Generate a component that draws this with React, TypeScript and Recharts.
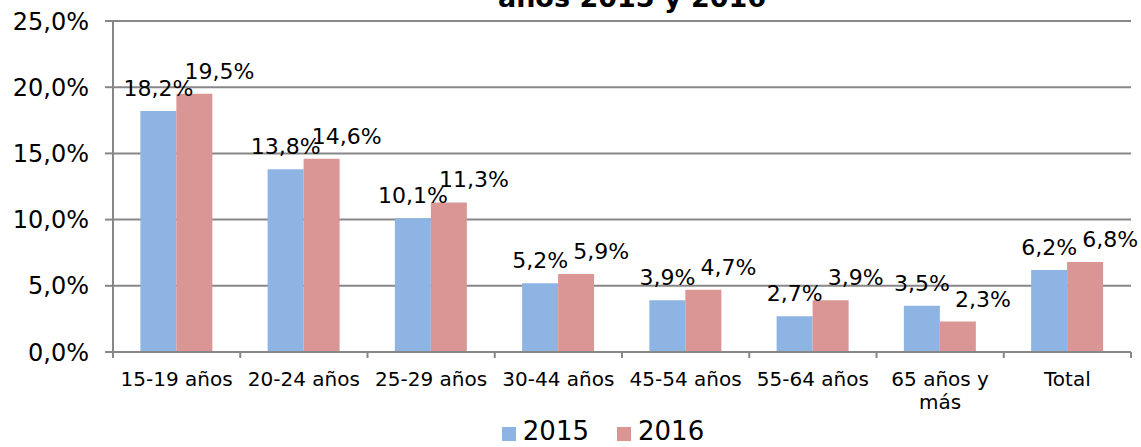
import { BarChart, Bar, XAxis, YAxis, CartesianGrid, Legend, LabelList } from 'recharts';

const categories = ['15-19 años', '20-24 años', '25-29 años', '30-44 años', '45-54 años', '55-64 años', '65 años y\nmás', 'Total'];
const values2015 = [18.2, 13.8, 10.1, 5.2, 3.9, 2.7, 3.5, 6.2];
const values2016 = [19.5, 14.6, 11.3, 5.9, 4.7, 3.9, 2.3, 6.8];
const yTicks = [0, 5, 10, 15, 20, 25];

const data = categories.map((name, i) => ({
  name,
  y2015: values2015[i],
  y2016: values2016[i],
}));

const W = 1141;
const H = 447;
const MARGIN = { top: 21, right: 10, bottom: 2, left: 0 };
const Y_AXIS_W = 113;
const BAND = (W - MARGIN.left - MARGIN.right - Y_AXIS_W) / categories.length;
const FONT = '"DejaVu Sans", Verdana, sans-serif';
const GRAY = '#878787';
const BLUE = '#8EB4E3';
const RED = '#D99694';

const fmt = (v: number) => v.toFixed(1).replace('.', ',') + '%';

function XTick(props: any) {
  const { x, y, payload, index } = props;
  const last = index === categories.length - 1;
  const lines = String(payload.value).split('\n');
  return (
    <g>
      <line x1={x - BAND / 2} y1={y} x2={x - BAND / 2} y2={y + 6} stroke={GRAY} strokeWidth={2} />
      {last && <line x1={x + BAND / 2} y1={y} x2={x + BAND / 2} y2={y + 6} stroke={GRAY} strokeWidth={2} />}
      <text x={x} y={y + 34} textAnchor="middle" fontSize={20} fontFamily={FONT} fill="#000">
        {lines.map((l, i) => (
          <tspan key={i} x={x} dy={i === 0 ? 0 : 23}>
            {l}
          </tspan>
        ))}
      </text>
    </g>
  );
}

const makeLabel = (dx: number) => (props: any) => {
  const { x, y, width, value } = props;
  return (
    <text
      x={x + width / 2 + dx}
      y={y - 15}
      textAnchor="middle"
      fontSize={22}
      fontFamily={FONT}
      fill="#000"
    >
      {fmt(value)}
    </text>
  );
};

function LegendBox() {
  const items = [
    { label: '2015', color: BLUE },
    { label: '2016', color: RED },
  ];
  return (
    <div
      style={{
        height: 29,
        display: 'flex',
        justifyContent: 'center',
        paddingLeft: 103,
        fontFamily: FONT,
        fontSize: 26,
        lineHeight: '29px',
        position: 'relative',
        top: 1,
      }}
    >
      {items.map((it) => (
        <div key={it.label} style={{ display: 'flex', alignItems: 'center', marginRight: 28 }}>
          <span style={{ width: 14, height: 14, background: it.color, display: 'inline-block', marginRight: 7, marginTop: 4 }} />
          <span>{it.label}</span>
        </div>
      ))}
    </div>
  );
}

export default function App() {
  return (
    <div style={{ position: 'absolute', left: 0, top: 0, width: W, height: H, overflow: 'hidden', background: '#fff' }}>
      <div
        style={{
          position: 'absolute',
          top: -16,
          left: 632,
          transform: 'translateX(-50%)',
          fontFamily: FONT,
          fontWeight: 'bold',
          fontSize: 27,
          lineHeight: '27px',
          whiteSpace: 'nowrap',
          zIndex: 2,
        }}
      >
        años 2015 y 2016
      </div>
      <BarChart width={W} height={H} data={data} margin={MARGIN} barCategoryGap="21.5%" barGap={0}>
        <CartesianGrid horizontal vertical={false} stroke={GRAY} strokeWidth={2} />
        <XAxis
          dataKey="name"
          height={64}
          axisLine={{ stroke: GRAY, strokeWidth: 2 }}
          tickLine={false}
          tickSize={0}
          tickMargin={0}
          interval={0}
          tick={<XTick />}
        />
        <YAxis
          width={Y_AXIS_W}
          domain={[0, 25]}
          ticks={yTicks}
          tickFormatter={fmt}
          axisLine={{ stroke: GRAY, strokeWidth: 2 }}
          tickLine={{ stroke: GRAY, strokeWidth: 2 }}
          tickSize={8}
          tickMargin={16}
          tick={{ fontSize: 24, fontFamily: FONT, fill: '#000' }}
        />
        <Legend verticalAlign="bottom" height={29} content={<LegendBox />} />
        <Bar dataKey="y2015" name="2015" fill={BLUE} isAnimationActive={false}>
          <LabelList dataKey="y2015" content={makeLabel(0)} />
        </Bar>
        <Bar dataKey="y2016" name="2016" fill={RED} isAnimationActive={false}>
          <LabelList dataKey="y2016" content={makeLabel(25)} />
        </Bar>
      </BarChart>
    </div>
  );
}
